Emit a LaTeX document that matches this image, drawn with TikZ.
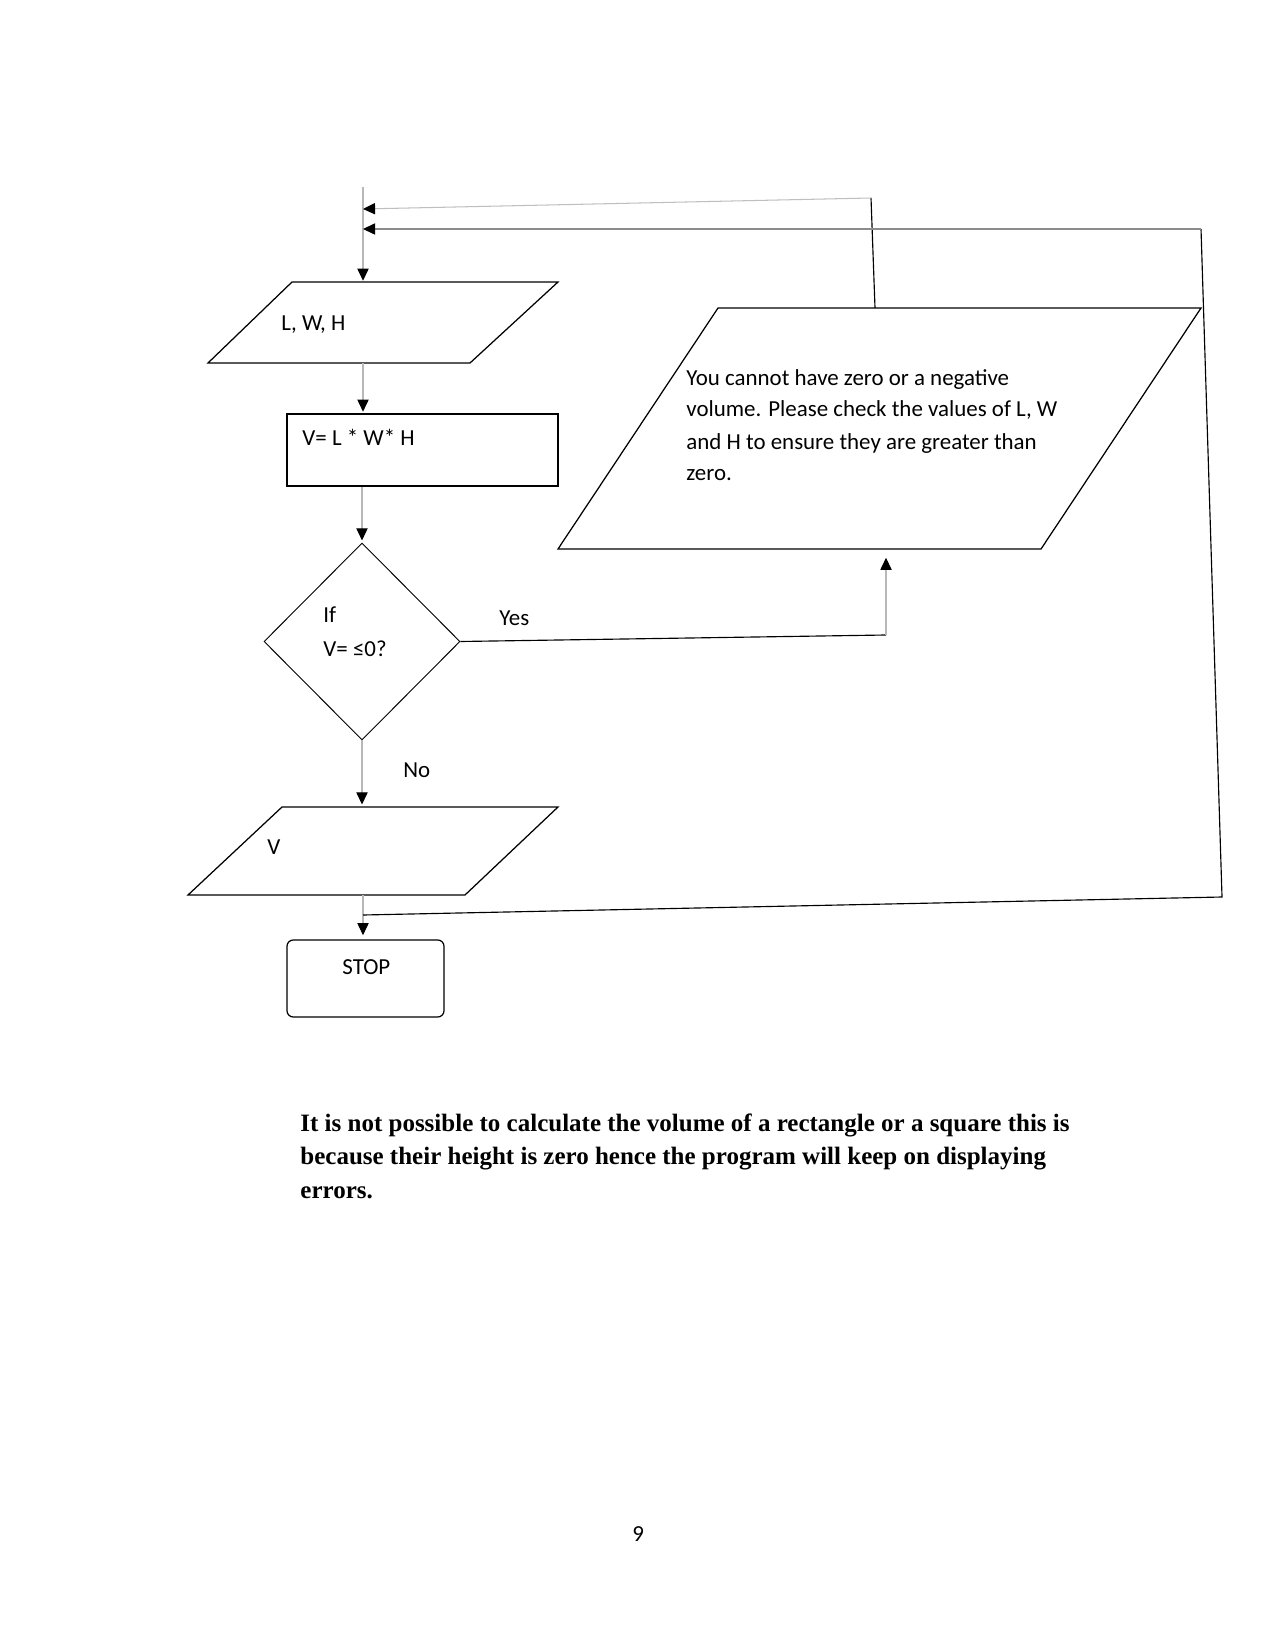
\documentclass[tikz,border=0pt]{standalone}
\usepackage{fontspec}
\setmainfont{Carlito}
\newfontfamily\serifbody{Liberation Serif}
\usetikzlibrary{shapes.geometric,arrows.meta,calc}
\begin{document}
\begin{tikzpicture}[x=0.48pt,y=-0.48pt,
  box/.style={draw=black, line width=0.6pt, inner sep=0pt},
  frame/.style={draw=none, inner sep=0pt},
  outline/.style={draw=black, line width=0.6pt, line join=miter},
  conn/.style={draw=black!28, line width=0.5pt},
  dark/.style={draw=black, line width=0.55pt},
  tip/.style={-{Triangle[length=5.8pt,width=5.4pt,color=black]}},
  lbl/.style={font=\fontsize{11pt}{13pt}\selectfont, inner sep=0pt, anchor=base west},
  note/.style={font=\serifbody\bfseries\fontsize{12pt}{14pt}\selectfont, inner sep=0pt, anchor=base west},
]
\fill[white] (0,0) rectangle (1275,1650);
\useasboundingbox (0,0) rectangle (1275,1650);

% shapes (parallelograms: named frame node + drawn outline)
\node[frame, minimum width=350*0.48pt, minimum height=81*0.48pt] (lwh) at (383,322.5) {};
\draw[outline] (292,282) -- (558,282) -- (470,363) -- (208,363) -- cycle;
\node[box, minimum width=271*0.48pt, minimum height=72*0.48pt] (calc) at (422.5,450) {};
\node[box, diamond, line width=0.45pt, minimum width=196*0.48pt, minimum height=197*0.48pt] (dia) at (362,641.5) {};
\node[frame, minimum width=643*0.48pt, minimum height=241*0.48pt] (err) at (879.5,428.5) {};
\draw[outline] (718,308) -- (1201,308) -- (1041,549) -- (558,549) -- cycle;
\node[frame, minimum width=370*0.48pt, minimum height=88*0.48pt] (vout) at (373,851) {};
\draw[outline] (282,807) -- (558,807) -- (465,895) -- (188,895) -- cycle;
\node[box, rounded corners=3pt, minimum width=157*0.48pt, minimum height=77*0.48pt] (stop) at (365.5,978.5) {};

% texts
\node[lbl] (tlwh) at (281,330.5) {L, W, H};
\node[lbl] (tcalc) at (302,445.5) {V= L * W* H};
\node[lbl] (tif) at (323,622.5) {If};
\node[lbl] (tcond) at (323,656.5) {V= ≤0?};
\node[lbl] (tyes) at (499,625.5) {Yes};
\node[lbl] (tno) at (403,777) {No};
\node[lbl] (tv) at (267,854) {V};
\node[lbl] (tstop) at (342,974) {STOP};
\node[lbl] (te1) at (686,385.5) {You cannot have zero or a negative};
\node[lbl] (te2) at (686,417) {volume. Please check the values of L, W};
\node[lbl] (te3) at (686,449.5) {and H to ensure they are greater than};
\node[lbl] (te4) at (686,480.5) {zero.};
\node[note] (n1) at (300,1131) {It is not possible to calculate the volume of a rectangle or a square this is};
\node[note] (n2) at (300,1164) {because their height is zero hence the program will keep on displaying};
\node[note] (n3) at (300,1198) {errors.};
\node[lbl] (pg) at (632,1541) {9};

% coordinates
\coordinate (top) at (363,187);
\coordinate (in1) at (363,209);
\coordinate (in2) at (363,229);
\coordinate (l1a) at (871,198);
\coordinate (l1b) at (875,308);
\coordinate (l2a) at (1201,229);
\coordinate (l2b) at (1222,897);
\coordinate (j) at (363,915);
\coordinate (yc) at (886,635);

% main flow
\draw[conn, tip] (top) -- ([yshift=0.4pt]top |- lwh.north);
\draw[conn, tip] (lwh.south -| top) -- ([yshift=0.8pt]calc.north -| top);
\draw[conn, tip] (calc.south -| dia.north) -- ([yshift=1pt]dia.north);
\draw[conn, tip] (dia.south) -- ([yshift=1pt]dia.south |- vout.north);
\draw[conn, tip] (vout.south -| top) -- ([yshift=2pt]stop.north -| top);

% yes branch
\draw[dark] (dia.east) -- (yc);
\draw[conn, tip] (yc) -- ([yshift=-4pt]yc |- err.south);

% loop back from error output
\draw[dark] (l1b) -- (l1a);
\draw[draw=black!25, line width=0.5pt, tip] (l1a) -- (in1);

% loop back from V output
\draw[dark] (j) -- (l2b) -- (l2a);
\draw[draw=black!45, line width=0.5pt, tip] (l2a) -- (in2);
\end{tikzpicture}
\end{document}
